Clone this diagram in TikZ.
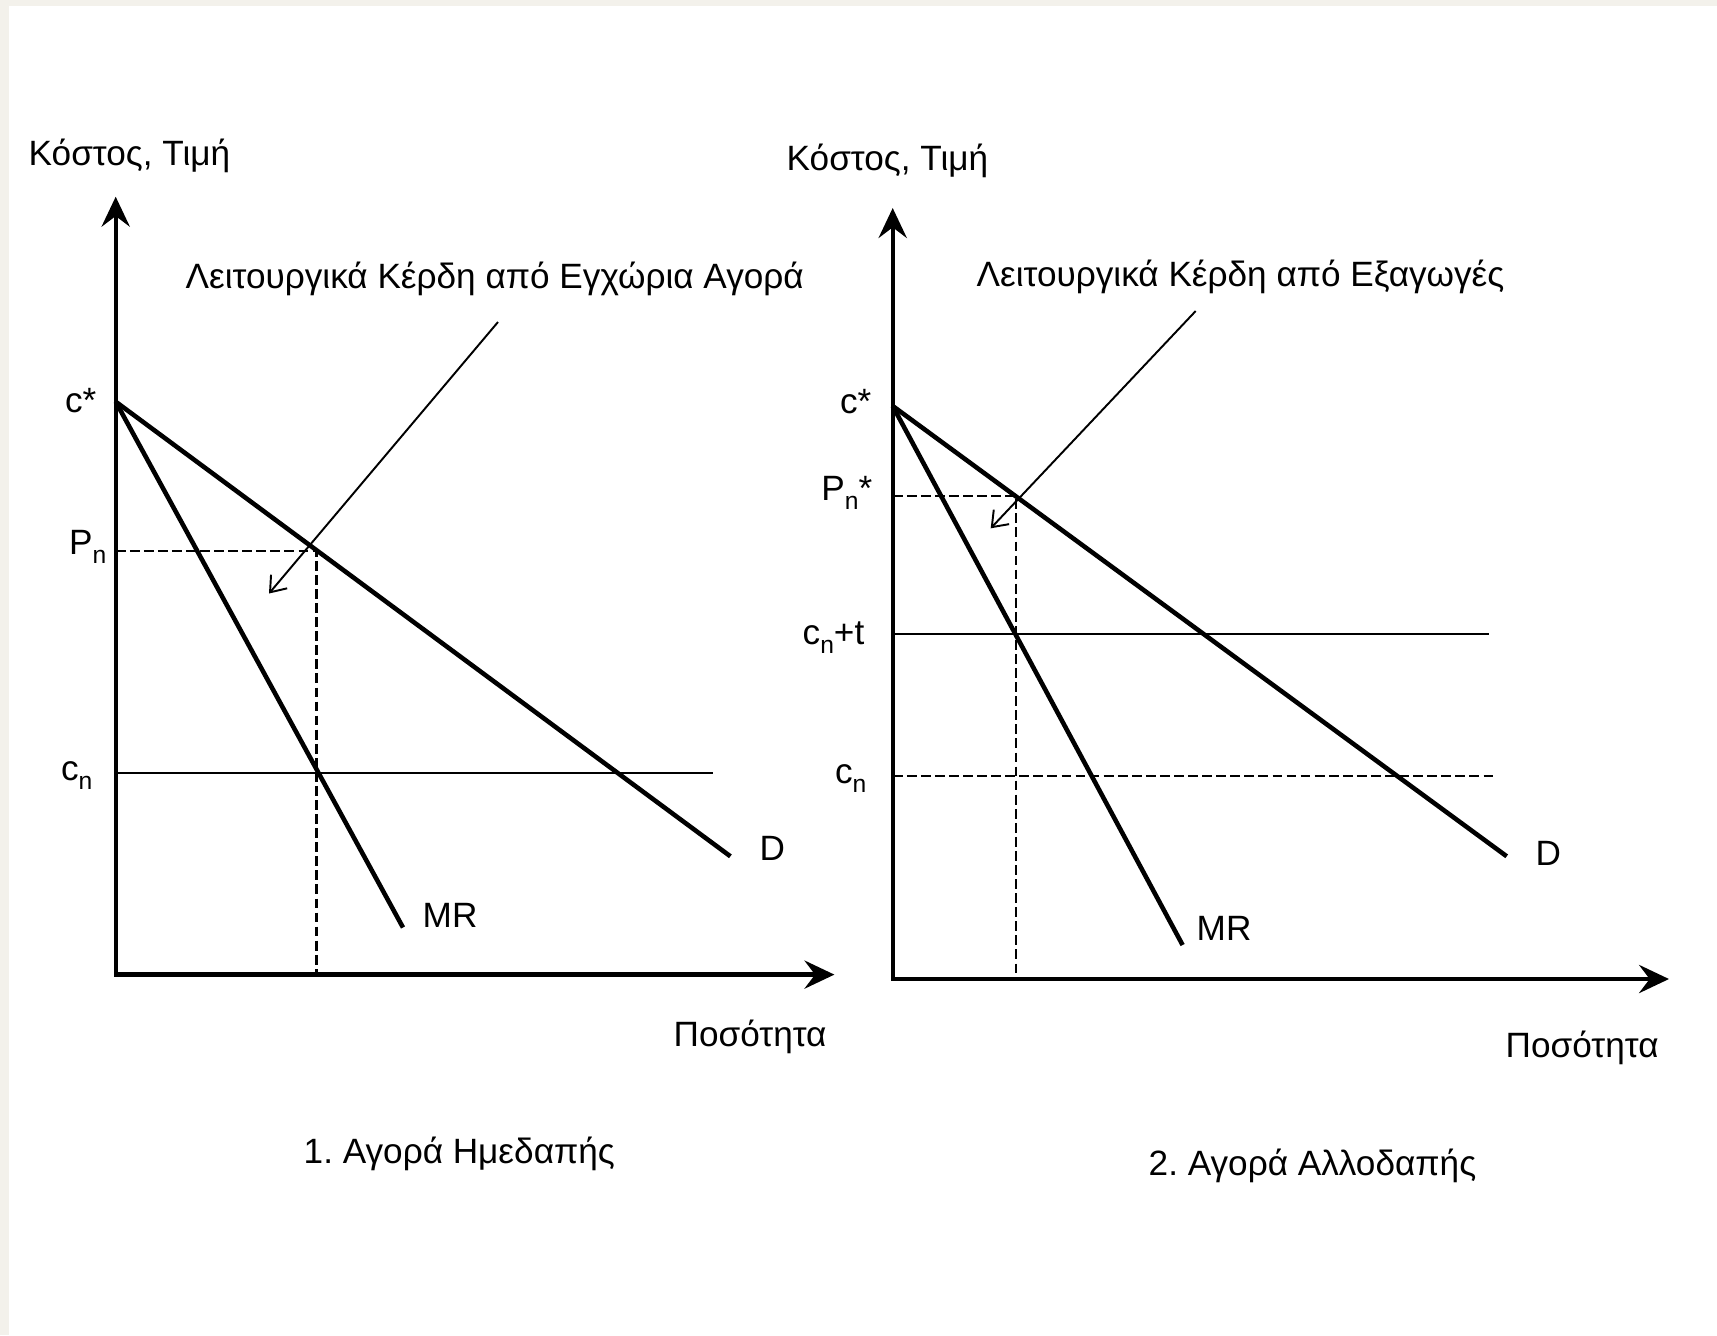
\documentclass[tikz,border=0pt]{standalone}
\usepackage{fontspec}
\setmainfont{Liberation Sans}
\usetikzlibrary{arrows.meta}
\definecolor{paper}{RGB}{243, 241, 235}
\newcommand{\lowidx}[1]{\raisebox{-2.8pt}{\fontsize{7}{8}\selectfont #1}}
\frenchspacing
\tikzset{
  axis/.style={line width=1.25pt, {Stealth[length=8.5pt, width=8pt, inset=3pt]}-{Stealth[length=8.5pt, width=8pt, inset=3pt]}},
  curve/.style={line width=1.3pt},
  level/.style={line width=0.55pt},
  guide/.style={line width=0.6pt, dash pattern=on 2.8pt off 1.2pt},
  note/.style={line width=0.55pt, -{Straight Barb[length=4pt, width=6pt]}},
  lbl/.style={inner sep=0pt, font=\fontsize{10}{12}\selectfont},
}

\begin{document}
\begin{tikzpicture}[x=0.01cm, y=-0.01cm]
  \fill[paper] (0,0) rectangle (1717,1335);
  \fill[white] (9,6) rectangle (1717,1335);
  \useasboundingbox (0,0) rectangle (1717,1335);

  % 1. Domestic market
  \coordinate (Lo) at (115.7, 974.6);
  \coordinate (Ly) at (115.7, 196.7);
  \coordinate (Lx) at (834.4, 974.6);
  \coordinate (Lc) at (115.7, 401.7);
  \coordinate (LD) at (730.4, 856.3);
  \coordinate (LMR) at (403, 927.5);
  \coordinate (Lp) at (115.7, 550.7);
  \coordinate (Lq) at (316.5, 550.7);
  \coordinate (Lqx) at (316.5, 974.6);
  \coordinate (Lcn) at (115.7, 773);
  \coordinate (Lcnend) at (712.8, 773);
  \coordinate (Lfrom) at (498, 322);
  \coordinate (Lto) at (269, 593.5);

  \draw[axis] (Ly) -- (Lo) -- (Lx);
  \draw[curve] (Lc) -- (LD);
  \draw[curve] (Lc) -- (LMR);
  \draw[guide] (Lp) -- (Lq) -- (Lqx);
  \draw[level] (Lcn) -- (Lcnend);
  \draw[note] (Lfrom) -- (Lto);

  \node[lbl, anchor=base west] (Lyl) at (28, 165) {Κόστος, Τιμή};
  \node[lbl, anchor=base west] (Lxl) at (673, 1046) {Ποσότητα};
  \node[lbl, anchor=base east] (Lcs) at (97, 412) {c*};
  \node[lbl, anchor=base east] (Lpn) at (107, 554) {P\lowidx{n}};
  \node[lbl, anchor=base east] (Lcnl) at (93, 780) {c\lowidx{n}};
  \node[lbl, anchor=base west] (LDl) at (759, 860) {D};
  \node[lbl, anchor=base west] (LMRl) at (422, 927) {MR};
  \node[lbl, anchor=base west] (Lnote) at (185, 288) {Λειτουργικά Κέρδη από Εγχώρια Αγορά};
  \node[lbl, anchor=base west] (Ltitle) at (303, 1163) {1. Αγορά Ημεδαπής};

  % 2. Foreign market
  \coordinate (Ro) at (892.7, 979);
  \coordinate (Ry) at (892.7, 208);
  \coordinate (Rx) at (1669, 979);
  \coordinate (Rc) at (892.7, 406);
  \coordinate (RD) at (1506.7, 856.3);
  \coordinate (RMR) at (1182.6, 945);
  \coordinate (Rp) at (892.7, 496);
  \coordinate (Rq) at (1016, 496);
  \coordinate (Rqx) at (1016, 979);
  \coordinate (Rct) at (892.7, 634);
  \coordinate (Rctend) at (1489, 634);
  \coordinate (Rcn) at (892.7, 776.4);
  \coordinate (Rcnend) at (1494, 776.4);
  \coordinate (Rfrom) at (1195.7, 311);
  \coordinate (Rto) at (990.7, 528.3);

  \draw[axis] (Ry) -- (Ro) -- (Rx);
  \draw[curve] (Rc) -- (RD);
  \draw[curve] (Rc) -- (RMR);
  \draw[guide] (Rp) -- (Rq) -- (Rqx);
  \draw[level] (Rct) -- (Rctend);
  \draw[guide] (Rcn) -- (Rcnend);
  \draw[note] (Rfrom) -- (Rto);

  \node[lbl, anchor=base west] (Ryl) at (786, 170) {Κόστος, Τιμή};
  \node[lbl, anchor=base west] (Rxl) at (1505, 1057) {Ποσότητα};
  \node[lbl, anchor=base east] (Rcs) at (872, 413) {c*};
  \node[lbl, anchor=base east] (Rpn) at (873, 500) {P\lowidx{n}*};
  \node[lbl, anchor=base east] (Rctl) at (865, 644) {c\lowidx{n}+t};
  \node[lbl, anchor=base east] (Rcnl) at (867, 783) {c\lowidx{n}};
  \node[lbl, anchor=base west] (RDl) at (1535, 865) {D};
  \node[lbl, anchor=base west] (RMRl) at (1196, 940) {MR};
  \node[lbl, anchor=base west] (Rnote) at (976, 286) {Λειτουργικά Κέρδη από Εξαγωγές};
  \node[lbl, anchor=base west] (Rtitle) at (1148, 1175) {2. Αγορά Αλλοδαπής};
\end{tikzpicture}
\end{document}
